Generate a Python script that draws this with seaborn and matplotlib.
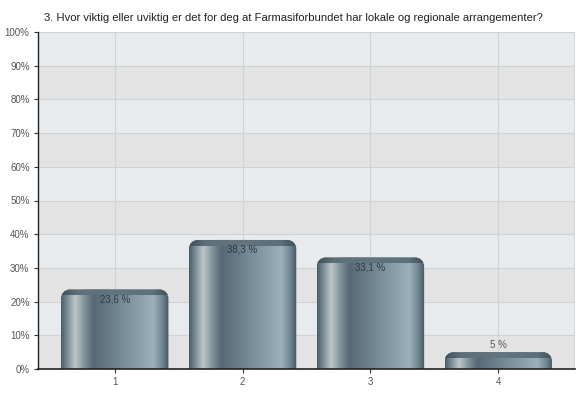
import numpy as np
import pandas as pd
import seaborn as sns
import matplotlib
matplotlib.use("Agg")
import matplotlib.pyplot as plt
from matplotlib.patches import PathPatch
from matplotlib.path import Path
from matplotlib.colors import LinearSegmentedColormap

categories = ["1", "2", "3", "4"]
values = [23.6, 38.3, 33.1, 5.0]
labels = ["23,6 %", "38,3 %", "33,1 %", "5 %"]
yticks = [0, 10, 20, 30, 40, 50, 60, 70, 80, 90, 100]
title = "3. Hvor viktig eller uviktig er det for deg at Farmasiforbundet har lokale og regionale arrangementer?"

sns.set_theme(style="white")
plt.rcParams['font.family'] = ['Liberation Sans', 'DejaVu Sans']

fig = plt.figure(figsize=(5.87, 3.95), dpi=100)
ax = fig.add_axes([38/587, 1-369/395, (575-38)/587, (369-32)/395])

df = pd.DataFrame({"cat": categories, "val": values})
sns.barplot(data=df, x="cat", y="val", ax=ax, width=0.84, color="#6f8490",
            edgecolor="none", linewidth=0, zorder=3)

ax.set_xlim(-0.6, 3.6)
ax.set_ylim(0, 100)

# alternating bands
for i in range(10):
    c = "#e3e3e3" if i % 2 == 0 else "#e8ebee"
    ax.axhspan(i*10, (i+1)*10, color=c, zorder=0, lw=0)
for t in yticks[1:]:
    ax.axhline(t, color="#cfd2d4", lw=0.8, zorder=1)
for i in range(len(categories)):
    ax.axvline(i, color="#d0d3d6", lw=0.8, zorder=1)
ax.axvline(3.6, color="#d0d3d6", lw=1.2, zorder=1)

# gradient bars
stops = [(0.0, "#4a5c66"), (0.06, "#7d8e97"), (0.13, "#bcc6cb"), (0.22, "#7f9099"),
         (0.30, "#566a75"), (0.60, "#7a909c"), (0.86, "#9ab0bc"), (0.94, "#6f8591"), (1.0, "#46565f")]
cmap = LinearSegmentedColormap.from_list("bar", stops)
grad = np.linspace(0, 1, 256).reshape(1, -1)
cap_stops = [(0.0, "#3f4f58"), (0.15, "#5d6f79"), (0.5, "#62747e"), (0.85, "#5d6f79"), (1.0, "#3f4f58")]
cap_cmap = LinearSegmentedColormap.from_list("cap", cap_stops)

px_x = 4.2 / (575 - 38)
px_y = 100 / (369 - 32)


def top_rounded_path(x0, w, h, rx, ry):
    k = 0.5523
    x1 = x0 + w
    verts = [
        (x0, 0), (x0, h - ry),
        (x0, h - ry + k * ry), (x0 + rx - k * rx, h), (x0 + rx, h),
        (x1 - rx, h),
        (x1 - rx + k * rx, h), (x1, h - ry + k * ry), (x1, h - ry),
        (x1, 0), (x0, 0),
    ]
    codes = [Path.MOVETO, Path.LINETO,
             Path.CURVE4, Path.CURVE4, Path.CURVE4,
             Path.LINETO,
             Path.CURVE4, Path.CURVE4, Path.CURVE4,
             Path.LINETO, Path.CLOSEPOLY]
    return Path(verts, codes)


for p, lab, v in zip(ax.patches, labels, values):
    x0, w, h = p.get_x(), p.get_width(), p.get_height()
    p.set_alpha(0)
    rx, ry = 9 * px_x, 9 * px_y
    clip = PathPatch(top_rounded_path(x0, w, h, rx, ry), transform=ax.transData,
                     facecolor="none", edgecolor="none")
    ax.add_patch(clip)
    im = ax.imshow(grad, cmap=cmap, aspect="auto", extent=(x0, x0 + w, 0, h),
                   zorder=3, interpolation="bilinear")
    im.set_clip_path(clip)
    cap_h = 6 * px_y
    im2 = ax.imshow(grad, cmap=cap_cmap, aspect="auto", extent=(x0, x0 + w, h - cap_h, h),
                    zorder=3.5, interpolation="bilinear")
    im2.set_clip_path(clip)
    cx = x0 + w / 2
    if h > 10:
        ax.text(cx, h - 10 * px_y, lab, ha="center", va="center", fontsize=7,
                color="#2e3a40", zorder=5)
    else:
        ax.text(cx, h + 7 * px_y, lab, ha="center", va="center", fontsize=7,
                color="#555555", zorder=5)

ax.set_xlim(-0.6, 3.6)
ax.set_ylim(0, 100)
ax.set_yticks(yticks)
ax.set_yticklabels([f"{t}%" for t in yticks], fontsize=7, color="#555555")
ax.set_xticks(range(len(categories)))
ax.set_xticklabels(categories, fontsize=7, color="#555555")
ax.tick_params(axis="both", which="both", length=3, width=0.8, color="#333333",
               direction="out", pad=3, left=True, bottom=True)
ax.set_xlabel("")
ax.set_ylabel("")
for s in ["top", "right"]:
    ax.spines[s].set_visible(False)
ax.spines["left"].set_color("#222222")
ax.spines["left"].set_linewidth(1.0)
ax.spines["bottom"].set_color("#222222")
ax.spines["bottom"].set_linewidth(1.2)
ax.spines["left"].set_zorder(6)
ax.spines["bottom"].set_zorder(6)

fig.text(44/587, 1-18/395, title, fontsize=8.1, color="#222222", ha="left", va="center")

fig.savefig("out.png", dpi=100, facecolor="white")
